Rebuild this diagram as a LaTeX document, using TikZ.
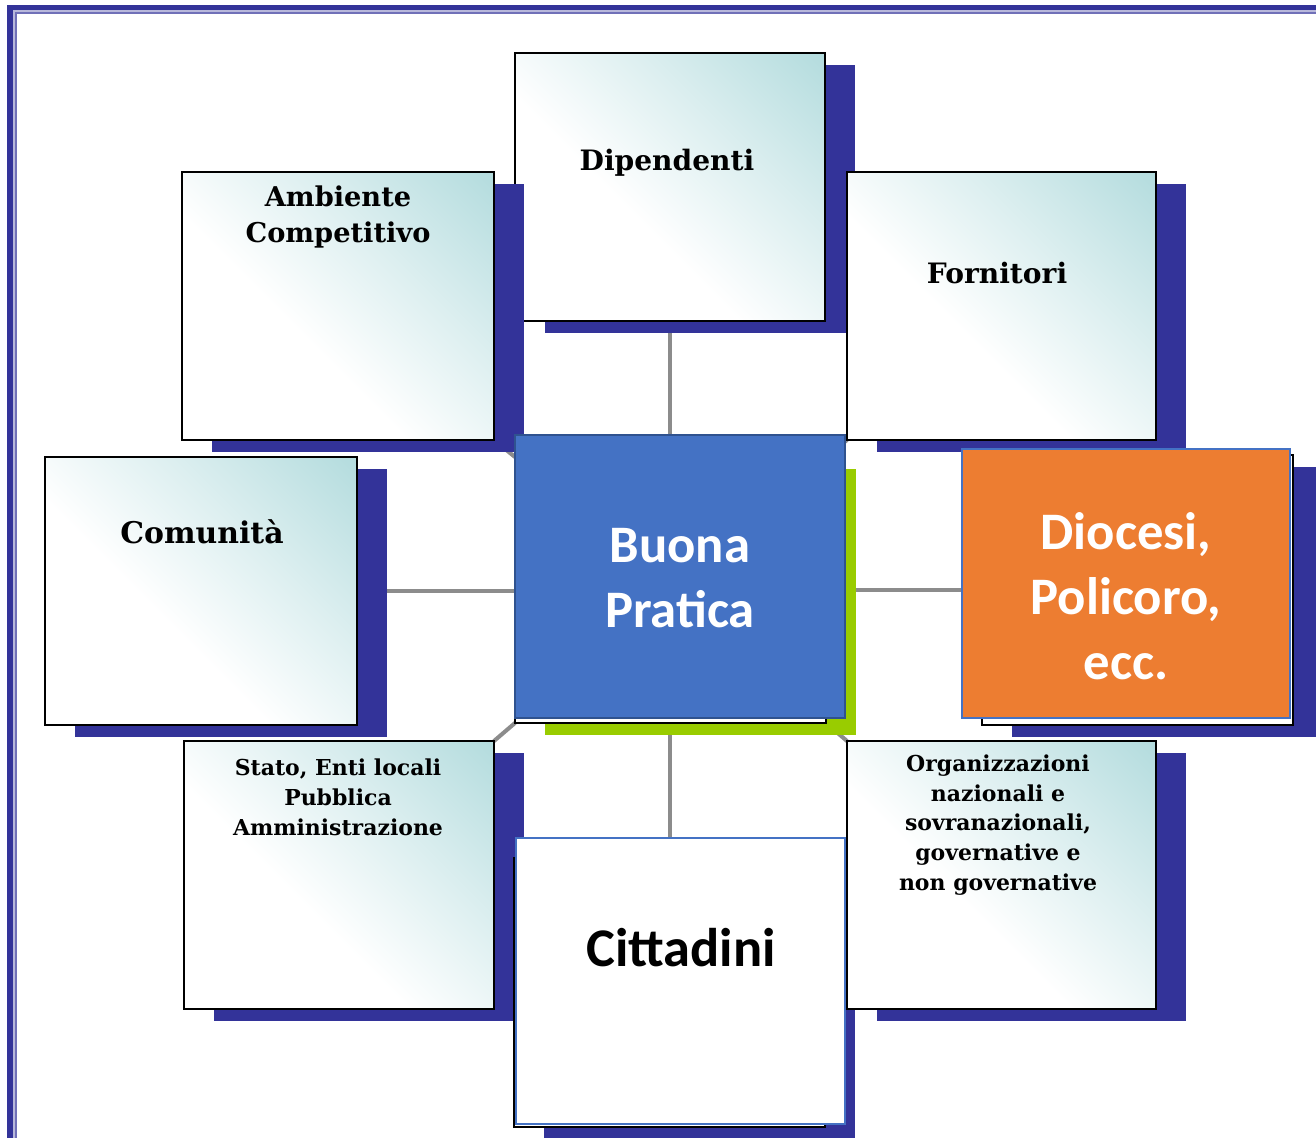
\documentclass[tikz,border=0pt]{standalone}
\usepackage{fontspec}
\newfontfamily\slabfont{DejaVu Serif}
\newfontfamily\slidefont{Carlito}
\usetikzlibrary{shadows,backgrounds}
\definecolor{navyshade}{RGB}{51,51,153}
\definecolor{tealtint}{RGB}{180,220,222}
\definecolor{spokegray}{RGB}{140,140,140}
\definecolor{pptblue}{RGB}{68,114,196}
\definecolor{pptborder}{RGB}{47,82,143}
\definecolor{pptorange}{RGB}{237,125,49}
\definecolor{limeshade}{RGB}{153,204,0}
\pgfdeclareverticalshading{tealfade}{100bp}{color(0bp)=(white); color(42bp)=(white);
  color(62bp)=(white!55!tealtint); color(85bp)=(tealtint); color(100bp)=(tealtint)}

\tikzset{
  oldframe/.style={draw=black, line width=1.1pt, fill=white, inner sep=0pt, outer sep=0pt,
    minimum width=6.2cm, minimum height=5.36cm},
  navyshadow/.style={general shadow={fill=navyshade, shadow xshift=0.6cm, shadow yshift=-0.24cm}},
  oldbox/.style={oldframe, shade, shading=tealfade, shading angle=-45, navyshadow},
  oldtext/.style={font=\slabfont\bfseries\fontsize{16}{20}\selectfont, align=center, inner sep=0pt},
  newbox/.style={inner sep=0pt, outer sep=0pt, line width=1.3pt, draw=pptblue},
  newtext/.style={font=\slidefont\bfseries\fontsize{30}{37}\selectfont, align=center, inner sep=0pt},
  spoke/.style={draw=spokegray, line width=2.3pt}
}

\begin{document}
\begin{tikzpicture}[x=0.02cm,y=-0.02cm]
  \useasboundingbox (0,0) rectangle (1316,1137);
  % page frame
  \draw[navyshade, line width=3pt] (10,7.5) rectangle (1340,1160);
  \draw[navyshade!35, line width=1pt] (14,11) rectangle (1340,1160);
  \draw[navyshade!70, line width=0.8pt] (16,13) rectangle (1340,1160);

  % old boxes
  \node[oldbox] (dip) at (670,187) {};
  \node[oldbox, minimum width=6.24cm] (amb) at (338,306) {};
  \node[oldbox, minimum width=6.18cm] (forn) at (1001.5,306) {};
  \node[oldbox, minimum width=6.24cm] (com) at (201,591) {};
  \node[oldbox] (stato) at (339,875) {};
  \node[oldframe, navyshadow, minimum width=6.22cm, minimum height=5.38cm] (oldcit) at (669.5,992.5) {};
  \node[oldbox, minimum width=6.18cm] (org) at (1001.5,875) {};
  \node[oldframe, minimum width=6.22cm, minimum height=5.32cm,
    general shadow={fill=limeshade, shadow xshift=0.6cm, shadow yshift=-0.24cm}] (oldc) at (670.5,590) {};
  \node[oldframe, navyshadow, minimum width=6.22cm, minimum height=5.4cm] (olddio) at (1137.5,590) {};

  \begin{scope}[on background layer]
    \draw[spoke] (dip.south) -- (dip.south |- oldc.north);
    \draw[spoke] (dip.south |- oldc.south) -- (dip.south |- oldcit.north);
    \draw[spoke] (com.east) -- (com.east -| oldc.west);
    \draw[spoke] (oldc.east) -- (olddio.west);
    \draw[spoke] (amb.south east) -- (oldc.north west);
    \draw[spoke] (forn.south west) -- (oldc.north east);
    \draw[spoke] (stato.north east) -- (oldc.south west);
    \draw[spoke] (org.north west) -- (oldc.south east);
  \end{scope}

  \node[oldtext] (diptxt) at (667,163) {Dipendenti};
  \node[oldtext, font=\slabfont\bfseries\fontsize{15.5}{20}\selectfont] (ambtxt) at (338,217) {Ambiente\\Competitivo};
  \node[oldtext] (forntxt) at (997,273) {Fornitori};
  \node[oldtext, font=\slabfont\bfseries\fontsize{17}{20}\selectfont] (comtxt) at (202,532) {Comunità};
  \node[oldtext, font=\slabfont\bfseries\fontsize{12.5}{17}\selectfont] (statotxt) at (338,797)
    {Stato, Enti locali\\Pubblica\\Amministrazione};
  \node[oldtext, font=\slabfont\bfseries\fontsize{12.5}{17}\selectfont] (orgtxt) at (998,825)
    {Organizzazioni\\nazionali e\\sovranazionali,\\governative e\\non governative};

  % new boxes
  \node[newbox, draw=pptborder, fill=pptblue, minimum width=6.6cm, minimum height=5.66cm] (buona) at (680,576.5) {};
  \node[newtext, text=white] (buonatxt) at (680,578) {Buona\\Pratica};
  \node[newbox, fill=pptorange, minimum width=6.56cm, minimum height=5.38cm] (dio) at (1126,583.5) {};
  \node[newtext, text=white] (diotxt) at (1126,596) {Diocesi,\\Policoro,\\ecc.};
  \node[newbox, fill=white, minimum width=6.58cm, minimum height=5.72cm] (cit) at (680.5,981) {};
  \node[newtext, font=\slidefont\bfseries\fontsize{31}{37}\selectfont] (cittxt) at (681,948) {Cittadini};
\end{tikzpicture}
\end{document}
